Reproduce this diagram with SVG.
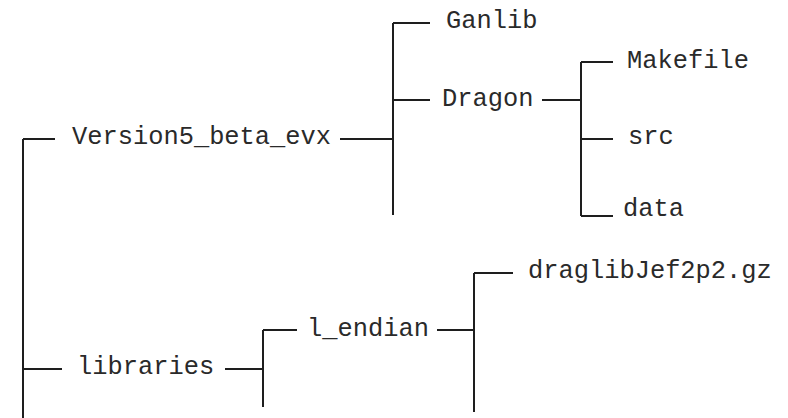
<svg xmlns="http://www.w3.org/2000/svg" width="788" height="418" viewBox="0 0 788 418">
<style>
.c{stroke:#1e1e1e;stroke-width:2;fill:none;stroke-linecap:butt}
.t{font-family:"Liberation Mono","Courier New",monospace;font-size:25.4px;fill:#2a2a2a}
</style>
<rect width="788" height="418" fill="#ffffff"/>
<g id="connectors">
<path class="c" d="M23,139V418M23,139H55M23,369H62"/>
<path class="c" d="M340,139H393M393,23V215M393,23H430M393,100H430"/>
<path class="c" d="M542,100H581M581,62V216M581,62H613M581,139H613M581,216H613"/>
<path class="c" d="M225,369H263M263,330V407M263,330H297"/>
<path class="c" d="M437,330H474M474,273V412M474,273H513"/>
</g>
<g id="node-version5"><text class="t" x="72" y="144">Version5_beta_evx</text></g>
<g id="node-ganlib"><text class="t" x="446" y="28">Ganlib</text></g>
<g id="node-dragon"><text class="t" x="442" y="106">Dragon</text></g>
<g id="node-makefile"><text class="t" x="627" y="68">Makefile</text></g>
<g id="node-src"><text class="t" x="628" y="144">src</text></g>
<g id="node-data"><text class="t" x="623" y="216">data</text></g>
<g id="node-libraries"><text class="t" x="77" y="374">libraries</text></g>
<g id="node-l_endian"><text class="t" x="307" y="336">l_endian</text></g>
<g id="node-draglib"><text class="t" x="528" y="278">draglibJef2p2.gz</text></g>
</svg>
